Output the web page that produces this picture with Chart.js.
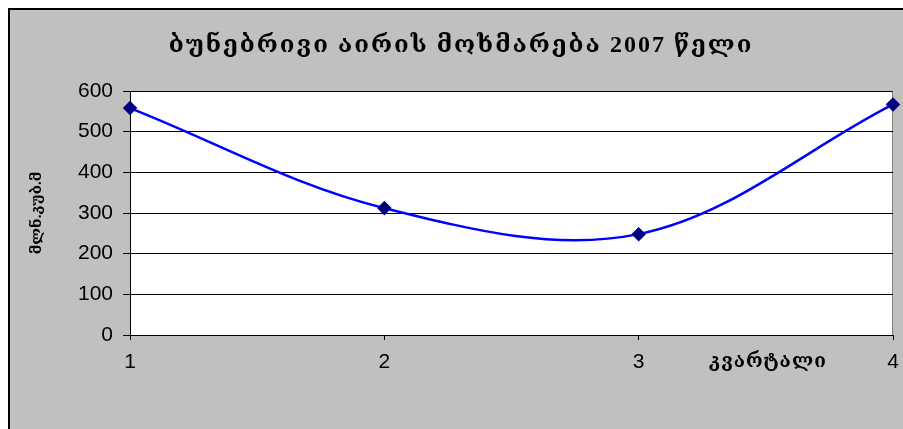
<!DOCTYPE html>
<html>
<head>
<meta charset="utf-8">
<script src="https://cdn.jsdelivr.net/npm/chart.js@4.4.1/dist/chart.umd.min.js"></script>
<style>
  body { margin: 0; background: #fff; width: 903px; height: 429px; overflow: hidden; }
  #box {
    position: absolute; left: 8px; top: 8px;
    width: 895px; height: 421px;
    border-left: 2px solid #000; border-top: 2px solid #000;
    background: #c0c0c0;
  }
  #chart { display: block; }
</style>
</head>
<body>
<div id="box"><canvas id="chart" width="893" height="419"></canvas></div>
<script>
const quarters = ["1", "2", "3", "4"];
const consumption = [558, 312, 248, 567];
const titleText = "ბუნებრივი აირის მოხმარება 2007 წელი";
const yTitleText = "მლნ.კუბ.მ";
const xTitleText = "კვარტალი";

const georgianFont = "'Liberation Serif', 'DejaVu Serif', serif";
const tickFont = { family: "'Liberation Sans', Arial, sans-serif", size: 21 };

// white plot area with grey frame
const plotFrame = {
  id: "plotFrame",
  beforeDraw(chart) {
    const { ctx, chartArea: a } = chart;
    ctx.save();
    ctx.fillStyle = "#fff";
    ctx.fillRect(a.left, a.top, a.right - a.left, a.bottom - a.top);
    ctx.strokeStyle = "#808080";
    ctx.lineWidth = 1;
    ctx.strokeRect(a.left + 0.5, a.top + 0.5, a.right - a.left - 1, a.bottom - a.top);
    ctx.restore();
  }
};

// chart title and x axis title (the x title sits between 3 and 4, on the tick label row)
const texts = {
  id: "texts",
  afterDraw(chart) {
    const { ctx, scales } = chart;
    ctx.save();
    ctx.fillStyle = "#000";
    ctx.textAlign = "center";
    ctx.textBaseline = "middle";
    ctx.letterSpacing = "2px";
    ctx.font = "bold 24px " + georgianFont;
    ctx.fillText(titleText, 451, 36);
    ctx.letterSpacing = "1px";
    ctx.font = "bold 19px " + georgianFont;
    const x = (scales.x.getPixelForValue(2) + scales.x.getPixelForValue(3)) / 2 + 2;
    ctx.fillText(xTitleText, x, scales.x.top + 27);
    ctx.restore();
  }
};

new Chart(document.getElementById("chart"), {
  type: "line",
  data: {
    labels: quarters,
    datasets: [{
      data: consumption,
      borderColor: "#0000ff",
      borderWidth: 2.5,
      tension: 0.35,
      pointStyle: "rectRot",
      pointRadius: 5.5,
      pointBackgroundColor: "#000080",
      pointBorderColor: "#000080",
      fill: false
    }]
  },
  options: {
    responsive: false,
    animation: false,
    layout: { padding: { top: 81, right: 10, bottom: 0, left: 0 } },
    plugins: {
      legend: { display: false },
      tooltip: { enabled: false },
      title: { display: false }
    },
    scales: {
      x: {
        offset: false,
        grid: { drawOnChartArea: false, drawTicks: true, tickLength: 5, color: "#000" },
        border: { color: "#000", width: 1 },
        ticks: { color: "#000", padding: 10, font: tickFont, maxRotation: 0 },
        afterFit(scale) {
          scale.height = 94;
          scale.paddingLeft = 0;
          scale.paddingRight = 0;
        }
      },
      y: {
        min: 0, max: 600,
        ticks: { stepSize: 100, color: "#000", padding: 10, font: tickFont },
        grid: { color: "#000", lineWidth: 1, tickLength: 7 },
        border: { color: "#000", width: 1 },
        title: {
          display: true,
          text: yTitleText,
          color: "#000",
          font: { family: georgianFont, size: 15, weight: "bold" },
          padding: { top: 18, bottom: 0 }
        },
        afterFit(scale) { scale.width = 120; }
      }
    }
  },
  plugins: [plotFrame, texts]
});
</script>
</body>
</html>
